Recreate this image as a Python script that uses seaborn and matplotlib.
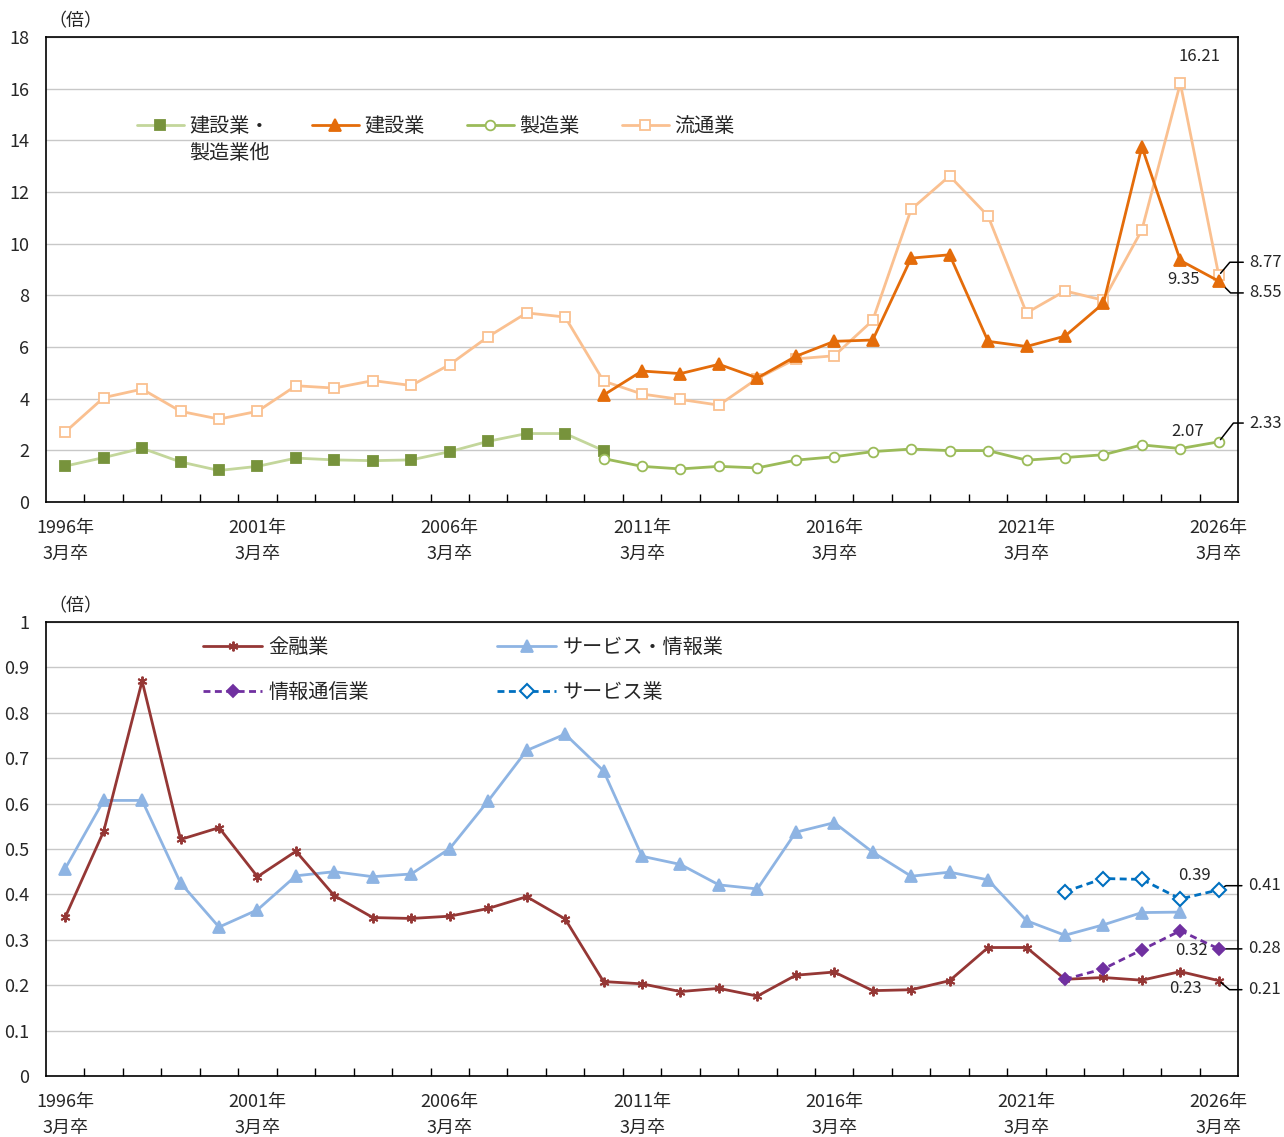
import matplotlib
matplotlib.use("Agg")
import matplotlib.pyplot as plt
import seaborn as sns
from matplotlib.ticker import FixedLocator, FuncFormatter, MultipleLocator

sns.set_style("white")
plt.rcParams['font.family'] = ['Noto Sans CJK JP', 'DejaVu Sans']
plt.rcParams['axes.unicode_minus'] = False

# ---------------- data ----------------
tick_years = [1996, 2001, 2006, 2011, 2016, 2021, 2026]
tick_labels = [f"{y}年\n3月卒" for y in tick_years]

# top panel
years_all = list(range(1996, 2027))
years_old = list(range(1996, 2011))
years_new = list(range(2010, 2027))
kensetsu_seizo_other = [1.39, 1.72, 2.08, 1.55, 1.22, 1.38, 1.70, 1.63, 1.60, 1.63,
                        1.95, 2.35, 2.65, 2.65, 1.99]
kensetsu = [4.14, 5.07, 4.97, 5.33, 4.80, 5.64, 6.22, 6.27, 9.44, 9.57, 6.22, 6.02,
            6.42, 7.69, 13.75, 9.35, 8.55]
seizo = [1.68, 1.38, 1.28, 1.38, 1.32, 1.62, 1.75, 1.95, 2.05, 1.99, 1.99, 1.62,
         1.72, 1.83, 2.21, 2.07, 2.33]
ryutsu = [2.71, 4.04, 4.37, 3.51, 3.21, 3.51, 4.50, 4.41, 4.70, 4.51, 5.32, 6.40,
          7.32, 7.16, 4.68, 4.18, 3.97, 3.75, 4.78, 5.54, 5.66, 7.03, 11.33, 12.62,
          11.07, 7.32, 8.17, 7.81, 10.53, 16.21, 8.77]

# bottom panel
years_svc_info = list(range(1996, 2026))
years_split = list(range(2022, 2027))
kinyu = [0.350, 0.539, 0.870, 0.521, 0.547, 0.439, 0.495, 0.397, 0.349, 0.347,
         0.352, 0.369, 0.395, 0.346, 0.208, 0.203, 0.186, 0.193, 0.176, 0.222,
         0.229, 0.188, 0.190, 0.210, 0.283, 0.283, 0.213, 0.217, 0.211, 0.23, 0.21]
service_info = [0.457, 0.607, 0.607, 0.425, 0.328, 0.366, 0.441, 0.450, 0.439, 0.445,
                0.501, 0.606, 0.717, 0.753, 0.672, 0.484, 0.466, 0.421, 0.412, 0.537,
                0.558, 0.493, 0.440, 0.449, 0.432, 0.342, 0.310, 0.333, 0.360, 0.361]
johotsushin = [0.213, 0.236, 0.278, 0.32, 0.28]
service = [0.406, 0.435, 0.433, 0.39, 0.41]

# ---------------- figure ----------------
W, H = 1284, 1137
fig = plt.figure(figsize=(W / 100, H / 100), dpi=100)
ax1 = fig.add_axes([46 / W, 1 - 502 / H, 1192 / W, 465 / H])
ax2 = fig.add_axes([46 / W, 1 - 1076 / H, 1192 / W, 454 / H])

TICK_FS = 13
LEG_FS = 14.5
LAB_FS = 12


def series(ax, x, y, color, marker, ms, mfc, mec, lw=2.0, ls='-', mew=1.3, z=2):
    sns.lineplot(x=x, y=y, ax=ax, color=color, marker=marker, markersize=ms,
                 markerfacecolor=mfc, markeredgecolor=mec, markeredgewidth=mew,
                 linewidth=lw, linestyle=ls, errorbar=None, zorder=z)
    return ax.lines[-1]


# top panel series
h_ryutsu = series(ax1, years_all, ryutsu, '#FAC090', 's', 7.5, 'white', '#FAC090', z=2)
h_kso = series(ax1, years_old, kensetsu_seizo_other, '#C3D69B', 's', 7.5, '#77933C', '#77933C', z=3)
h_seizo = series(ax1, years_new, seizo, '#9BBB59', 'o', 7, 'white', '#9BBB59', z=3)
h_kensetsu = series(ax1, years_new, kensetsu, '#E46C0A', '^', 8, '#E46C0A', '#E46C0A', z=4)

# bottom panel series
h_svc_info = series(ax2, years_svc_info, service_info, '#8EB4E3', '^', 8.5, '#8EB4E3', '#8EB4E3', z=2)
h_kinyu = series(ax2, years_all, kinyu, '#953735', (6, 2, 0), 7, '#953735', '#953735', mew=1.4, z=3)
h_joho = series(ax2, years_split, johotsushin, '#7030A0', 'D', 6.5, '#7030A0', '#7030A0',
                ls=(0, (2.5, 1.6)), z=4)
h_svc = series(ax2, years_split, service, '#0070C0', 'D', 7, 'white', '#0070C0',
               ls=(0, (2.5, 1.6)), mew=1.5, z=4)

# ---------------- axes styling ----------------
for ax in (ax1, ax2):
    ax.set_xlim(1995.5, 2026.5)
    ax.xaxis.set_major_locator(FixedLocator(tick_years))
    ax.set_xticklabels(tick_labels, fontsize=TICK_FS, linespacing=1.55)
    ax.xaxis.set_minor_locator(FixedLocator([y + 0.5 for y in range(1996, 2026)]))
    ax.tick_params(axis='x', which='major', length=0, pad=12.5)
    ax.tick_params(axis='x', which='minor', direction='in', length=6, width=1.0,
                   color='black', bottom=True)
    ax.tick_params(axis='y', length=0, pad=12, labelsize=TICK_FS)
    ax.grid(axis='y', color='#C8C8C8', linewidth=1.0)
    ax.grid(axis='x', visible=False)
    for sp in ax.spines.values():
        sp.set_visible(True)
        sp.set_color('black')
        sp.set_linewidth(1.2)
    ax.set_xlabel('')
    ax.set_ylabel('')
    ax.annotate('（倍）', xy=(0, 1), xycoords='axes fraction', xytext=(2, 11),
                textcoords='offset points', ha='left', va='center', fontsize=TICK_FS)

ax1.set_ylim(0, 18)
ax1.yaxis.set_major_locator(MultipleLocator(2))
ax2.set_ylim(0, 1)
ax2.yaxis.set_major_locator(MultipleLocator(0.1))
ax2.yaxis.set_major_formatter(FuncFormatter(lambda v, p: f"{v:g}"))

# ---------------- legends ----------------
leg1 = ax1.legend([h_kso, h_kensetsu, h_seizo, h_ryutsu],
                  ['建設業・', '建設業', '製造業', '流通業'],
                  ncol=4, loc='upper left', bbox_to_anchor=(0.0765, 0.831),
                  frameon=False, fontsize=LEG_FS, handlelength=2.3,
                  handletextpad=0.3, columnspacing=2.1, borderpad=0, borderaxespad=0)

leg2 = ax2.legend([h_kinyu, h_joho, h_svc_info, h_svc],
                  ['金融業', '情報通信業', 'サービス・情報業', 'サービス業'],
                  ncol=2, loc='upper left', bbox_to_anchor=(0.1317, 0.966),
                  frameon=False, fontsize=LEG_FS, handlelength=2.95,
                  handletextpad=0.3, columnspacing=6.35, labelspacing=1.15,
                  borderpad=0, borderaxespad=0)

# ---------------- value labels ----------------
def plain(ax, x, y, text, dx, dy):
    ax.annotate(text, xy=(x, y), xytext=(dx, dy), textcoords='offset points',
                ha='center', va='center', fontsize=LAB_FS, annotation_clip=False)


def leader(ax, x, y, text, dy, angleB, dx=22):
    if angleB is None:
        cs = 'arc3,rad=0'
    else:
        cs = f'angle,angleA=0,angleB={angleB},rad=0'
    ax.annotate(text, xy=(x, y), xytext=(dx, dy), textcoords='offset points',
                ha='left', va='center', fontsize=LAB_FS, annotation_clip=False,
                arrowprops=dict(arrowstyle='-', color='black', lw=1.1,
                                connectionstyle=cs, shrinkA=2, shrinkB=2,
                                relpos=(0, 0.5)))


plain(ax1, 2025, ryutsu[-2], '16.21', 14, 19)
plain(ax1, 2025, kensetsu[-2], '9.35', 2, -14)
plain(ax1, 2025, seizo[-2], '2.07', 5, 12)
leader(ax1, 2026, ryutsu[-1], '8.77', 9.5, 50)
leader(ax1, 2026, kensetsu[-1], '8.55', -8.5, -45)
leader(ax1, 2026, seizo[-1], '2.33', 13.5, 52)

plain(ax2, 2025, service[-2], '0.39', 10, 17)
plain(ax2, 2025, johotsushin[-2], '0.32', 8, -14)
plain(ax2, 2025, kinyu[-2], '0.23', 4, -12)
leader(ax2, 2026, service[-1], '0.41', 3, 30, dx=21)
leader(ax2, 2026, johotsushin[-1], '0.28', 0, None, dx=21)
leader(ax2, 2026, kinyu[-1], '0.21', -6.5, -40, dx=21)

# second line of the first top legend label
fig.canvas.draw()
t0 = leg1.get_texts()[0]
bb = t0.get_window_extent(renderer=fig.canvas.get_renderer())
inv = fig.transFigure.inverted()
xf, yf = inv.transform((bb.x0, (bb.y0 + bb.y1) / 2 - 27))
fig.text(xf, yf, '製造業他', ha='left', va='center', fontsize=LEG_FS)

fig.savefig('out.png', dpi=100)
